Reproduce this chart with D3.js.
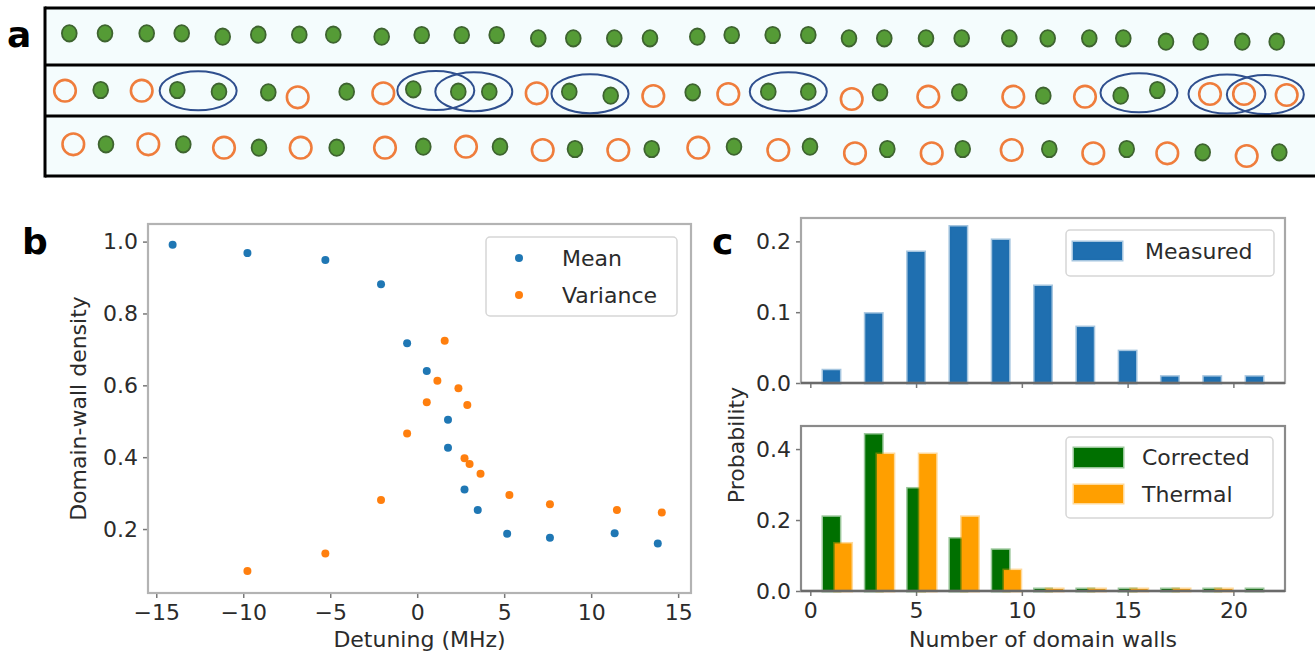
<!DOCTYPE html>
<html>
<head>
<meta charset="utf-8">
<script src="https://cdn.jsdelivr.net/npm/d3@7"></script>
<style>
  html, body { margin: 0; padding: 0; background: #fff; }
  svg { display: block; font-family: "DejaVu Sans", sans-serif; }
</style>
</head>
<body>
<svg id="fig" width="1315" height="656"></svg>
<script>
// ---- panel a: atom chain snapshots (positions in image units, x from box left, y from top)
const row1X = [24.3, 60, 101.7, 136.7, 177.7, 213.3, 254.3, 288.3, 336.7, 376.7, 416.7, 451.7, 493.3, 528.3, 569.3, 605,
  652.3, 686.7, 727.7, 763.3, 804, 839.3, 881, 916.7, 964.3, 1002.7, 1044.3, 1078.3, 1121, 1155.7, 1197.3, 1231.7];
const row1Y = [33.3, 33.3, 33.3, 33.3, 36.7, 34.7, 34.7, 34.7, 36.7, 35, 35, 35, 38.3, 38.3, 38.3, 38.3,
  36.7, 35, 35, 35, 38.3, 38.3, 38.3, 38.3, 38.3, 38.3, 38.3, 38.3, 41.7, 41.7, 41.7, 41.7];
const row1State = "GGGGGGGGGGGGGGGGGGGGGGGGGGGGGGGG";

const row2X = [20, 55.7, 96.7, 132.3, 174, 223.3, 252.7, 301.7, 338.3, 368.3, 413.3, 444.3, 491.7, 524.3, 565.7, 608.3,
  647.7, 683.3, 723.3, 763.3, 806.7, 835, 883.3, 914.3, 968.3, 998.3, 1040, 1075.7, 1112.3, 1165, 1199, 1241.7];
const row2Y = [90.7, 90, 90.7, 90, 91.7, 92.3, 97.3, 91.7, 93.3, 89.3, 91.7, 91.7, 93.3, 91.7, 95.7, 96,
  92.3, 94, 91.7, 91.7, 99, 92.3, 96.7, 92.3, 96.7, 95.7, 96.7, 95.7, 90, 94, 94, 95];
const row2State = "OGOGGGOGOGGGOGGOGOGGOGOGOGOGGOOO";
const wallPairs = [[3, 4], [9, 10], [10, 11], [13, 14], [18, 19], [27, 28], [29, 30], [30, 31]];

const row3X = [28.3, 61, 103.3, 138.3, 179, 214, 255.7, 291.7, 340, 378.3, 421, 455, 497.7, 530, 573.3, 606.7,
  653.3, 689, 733.3, 765, 810, 842.3, 886.7, 917.7, 966.7, 1004.3, 1048.3, 1081.7, 1122.3, 1157.7, 1201.7, 1234.3];
const row3Y = [144.3, 144.3, 144.3, 144.3, 147.7, 147.7, 147.7, 147.7, 147.7, 146.7, 146.7, 146.7, 150, 149, 150, 149,
  147.7, 146.7, 150, 146.7, 153.3, 149, 153.3, 149, 150, 149, 153.3, 149, 153.3, 152.3, 156, 152.3];
const row3State = "OGOGOGOGOGOGOGOGOGOGOGOGOGOGOGOG";

// ---- panel b: domain-wall density vs detuning
const meanDetuning = [-14.06, -9.76, -5.28, -2.08, -0.58, 0.55, 1.77, 1.77, 2.72, 3.48, 5.17, 7.63, 11.35, 13.83];
const meanDensity = [0.991, 0.968, 0.949, 0.881, 0.717, 0.640, 0.504, 0.426, 0.310, 0.253, 0.187, 0.176, 0.188, 0.160];
const varDetuning = [-9.76, -5.28, -2.08, -0.58, 0.55, 1.16, 1.58, 2.37, 2.88, 2.72, 3.01, 3.64, 5.30, 7.63, 11.48, 14.06];
const varDensity = [0.083, 0.132, 0.281, 0.466, 0.553, 0.613, 0.724, 0.592, 0.545, 0.397, 0.381, 0.354, 0.295, 0.269, 0.253, 0.246];
const detuningTicks = [-15, -10, -5, 0, 5, 10, 15];
const densityTicks = [0.2, 0.4, 0.6, 0.8, 1.0];

// ---- panel c: domain-wall number histograms
const wallCounts = [1, 3, 5, 7, 9, 11, 13, 15, 17, 19, 21];
const measured = [0.018, 0.098, 0.185, 0.221, 0.202, 0.137, 0.079, 0.045, 0.009, 0.009, 0.009];
const corrected = [0.209, 0.441, 0.289, 0.148, 0.116, 0, 0, 0, 0, 0, 0];
const thermal = [0.134, 0.386, 0.386, 0.209, 0.059, 0, 0, 0, 0, 0];
const countTicks = [0, 5, 10, 15, 20];
const measuredTicks = [0.0, 0.1, 0.2];
const probTicks = [0.0, 0.2, 0.4];

const TXT = "#2b2b2b";
const FS = 22;
const svg = d3.select("#fig");

// ================= panel a =================
const xA = d3.scaleLinear().domain([0, 1270]).range([45, 1315]);
const yA = d3.scaleLinear().domain([0, 656]).range([0, 656]);
const gA = svg.append("g");

[[8, 65], [65, 116], [116, 176]].forEach(([y0, y1]) => {
  gA.append("rect").attr("x", 45).attr("y", y0).attr("width", 1280).attr("height", y1 - y0).attr("fill", "#f4fcfd");
});

const rows = [[row1X, row1Y, row1State], [row2X, row2Y, row2State], [row3X, row3Y, row3State]];
rows.forEach(([xs, ys, st]) => {
  const atoms = xs.map((x, i) => ({ x, y: ys[i], s: st[i] }));
  gA.selectAll(null).data(atoms.filter(d => d.s === "O")).enter().append("circle")
    .attr("cx", d => xA(d.x)).attr("cy", d => yA(d.y)).attr("r", 10.8)
    .attr("fill", "none").attr("stroke", "#ef7d3c").attr("stroke-width", 2.6);
  gA.selectAll(null).data(atoms.filter(d => d.s === "G")).enter().append("ellipse")
    .attr("cx", d => xA(d.x)).attr("cy", d => yA(d.y)).attr("rx", 7.4).attr("ry", 8.2)
    .attr("fill", "#559b36").attr("stroke", "#3e6430").attr("stroke-width", 1.8);
});

gA.selectAll(null).data(wallPairs).enter().append("ellipse")
  .attr("cx", d => xA((row2X[d[0]] + row2X[d[1]]) / 2))
  .attr("cy", d => yA((row2Y[d[0]] + row2Y[d[1]]) / 2))
  .attr("rx", 38.5).attr("ry", 19.5)
  .attr("fill", "none").attr("stroke", "#2f4f8e").attr("stroke-width", 2);

// box borders
gA.append("line").attr("x1", 45).attr("x2", 1315).attr("y1", 8).attr("y2", 8).attr("stroke", "#000").attr("stroke-width", 3);
gA.append("line").attr("x1", 45).attr("x2", 1315).attr("y1", 65).attr("y2", 65).attr("stroke", "#000").attr("stroke-width", 3);
gA.append("line").attr("x1", 45).attr("x2", 1315).attr("y1", 116).attr("y2", 116).attr("stroke", "#000").attr("stroke-width", 3);
gA.append("line").attr("x1", 45).attr("x2", 1315).attr("y1", 176).attr("y2", 176).attr("stroke", "#000").attr("stroke-width", 3);
gA.append("line").attr("x1", 45).attr("x2", 45).attr("y1", 6.5).attr("y2", 177.5).attr("stroke", "#000").attr("stroke-width", 3);

// panel letters
const letter = (t, x, y) => svg.append("text").attr("x", x).attr("y", y).text(t)
  .attr("font-size", 36).attr("font-weight", "bold").attr("fill", "#000");
letter("a", 7, 47);
letter("b", 22, 254);
letter("c", 712, 254);

// ================= helpers =================
function styleAxis(g) {
  g.select(".domain").remove();
  g.selectAll(".tick line").attr("stroke", "#777").attr("stroke-width", 1.5);
  g.selectAll(".tick text").attr("fill", TXT).attr("font-size", FS).attr("font-family", "DejaVu Sans");
}
function frame(x0, x1, y0, y1, col, bottomCol) {
  svg.append("rect").attr("x", x0).attr("y", y0).attr("width", x1 - x0).attr("height", y1 - y0)
    .attr("fill", "none").attr("stroke", col).attr("stroke-width", 2.2);
  if (bottomCol) svg.append("line").attr("x1", x0).attr("x2", x1).attr("y1", y1).attr("y2", y1)
    .attr("stroke", bottomCol).attr("stroke-width", 2.4);
}
function legendBox(x, y, w, h) {
  svg.append("rect").attr("x", x).attr("y", y).attr("width", w).attr("height", h).attr("rx", 4)
    .attr("fill", "#fff").attr("fill-opacity", 0.9).attr("stroke", "#d6d6d6").attr("stroke-width", 1.5);
}
function legendText(t, x, y) {
  svg.append("text").attr("x", x).attr("y", y).attr("dy", "0.35em").text(t)
    .attr("font-size", FS).attr("fill", TXT);
}

// ================= panel b =================
const bL = 148, bR = 691, bT = 224, bB = 593;
const xB = d3.scaleLinear().domain([-15.475, 15.739]).range([bL, bR]);
const yB = d3.scaleLinear().domain([0.022, 1.049]).range([bB, bT]);

svg.append("g").attr("transform", `translate(0,${bB})`)
  .call(d3.axisBottom(xB).tickValues(detuningTicks).tickSize(5).tickPadding(6).tickFormat(d3.format("d")))
  .call(styleAxis);
svg.append("g").attr("transform", `translate(${bL},0)`)
  .call(d3.axisLeft(yB).tickValues(densityTicks).tickSize(5).tickPadding(5).tickFormat(d3.format(".1f")))
  .call(styleAxis);

svg.append("g").selectAll("circle").data(meanDetuning).enter().append("circle")
  .attr("cx", d => xB(d)).attr("cy", (d, i) => yB(meanDensity[i])).attr("r", 4).attr("fill", "#1f77b4");
svg.append("g").selectAll("circle").data(varDetuning).enter().append("circle")
  .attr("cx", d => xB(d)).attr("cy", (d, i) => yB(varDensity[i])).attr("r", 4).attr("fill", "#ff7f0e");

frame(bL, bR, bT, bB, "#b3b3b3");

legendBox(486, 237, 191, 79);
svg.append("circle").attr("cx", 519).attr("cy", 258).attr("r", 4).attr("fill", "#1f77b4");
svg.append("circle").attr("cx", 519).attr("cy", 295).attr("r", 4).attr("fill", "#ff7f0e");
legendText("Mean", 562, 258);
legendText("Variance", 562, 295);

svg.append("text").attr("x", (bL + bR) / 2).attr("y", 647).attr("text-anchor", "middle")
  .text("Detuning (MHz)").attr("font-size", FS).attr("fill", TXT);
svg.append("text").attr("transform", `translate(86,${(bT + bB) / 2}) rotate(-90)`).attr("text-anchor", "middle")
  .text("Domain-wall density").attr("font-size", FS).attr("fill", TXT);

// ================= panel c =================
const cL = 801, cR = 1285;
const xC = d3.scaleLinear().domain([-0.44, 22.44]).range([cL, cR]);
const barW = xC(0.8) - xC(0);
const t1T = 218, t1B = 383;
const t2T = 426, t2B = 591;
const yC1 = d3.scaleLinear().domain([0, 0.233]).range([t1B, t1T]);
const yC2 = d3.scaleLinear().domain([0, 0.465]).range([t2B, t2T]);

function bars(xs, vals, shift, y, color) {
  svg.append("g").selectAll("rect").data(vals).enter().append("rect")
    .attr("x", (d, i) => xC(xs[i] + shift) - barW / 2)
    .attr("y", d => Math.min(y(d), y(0) - 2))
    .attr("width", barW)
    .attr("height", d => Math.max(y(0) - y(d), 2))
    .attr("fill", color).attr("stroke", color).attr("stroke-opacity", 0.4).attr("stroke-width", 3);
}

// top: measured
svg.append("g").attr("transform", `translate(0,${t1B})`)
  .call(d3.axisBottom(xC).tickValues(countTicks).tickSize(5).tickFormat(""))
  .call(styleAxis);
svg.append("g").attr("transform", `translate(${cL},0)`)
  .call(d3.axisLeft(yC1).tickValues(measuredTicks).tickSize(5).tickPadding(5).tickFormat(d3.format(".1f")))
  .call(styleAxis);
bars(wallCounts, measured, 0, yC1, "#1f6fb0");
frame(cL, cR, t1T, t1B, "#a8a8a8", "#6a6a6a");

legendBox(1066, 230, 208, 46);
svg.append("rect").attr("x", 1073).attr("y", 242).attr("width", 49).attr("height", 18)
  .attr("fill", "#1f6fb0").attr("stroke", "#1f6fb0").attr("stroke-opacity", 0.4).attr("stroke-width", 3);
legendText("Measured", 1145, 251);

// bottom: corrected vs thermal
svg.append("g").attr("transform", `translate(0,${t2B})`)
  .call(d3.axisBottom(xC).tickValues(countTicks).tickSize(5).tickPadding(6).tickFormat(d3.format("d")))
  .call(styleAxis);
svg.append("g").attr("transform", `translate(${cL},0)`)
  .call(d3.axisLeft(yC2).tickValues(probTicks).tickSize(5).tickPadding(5).tickFormat(d3.format(".1f")))
  .call(styleAxis);
bars(wallCounts, corrected, 0, yC2, "#007000");
bars(wallCounts.slice(0, thermal.length), thermal, 0.55, yC2, "#ff9f00");
frame(cL, cR, t2T, t2B, "#8a8a8a", "#6a6a6a");

legendBox(1066, 437, 207, 81);
svg.append("rect").attr("x", 1074).attr("y", 448).attr("width", 49).attr("height", 19)
  .attr("fill", "#007000").attr("stroke", "#007000").attr("stroke-opacity", 0.4).attr("stroke-width", 3);
svg.append("rect").attr("x", 1074).attr("y", 485).attr("width", 49).attr("height", 18)
  .attr("fill", "#ff9f00").attr("stroke", "#ff9f00").attr("stroke-opacity", 0.4).attr("stroke-width", 3);
legendText("Corrected", 1142, 457.5);
legendText("Thermal", 1142, 494);

svg.append("text").attr("x", (cL + cR) / 2).attr("y", 647).attr("text-anchor", "middle")
  .text("Number of domain walls").attr("font-size", FS).attr("fill", TXT);
svg.append("text").attr("transform", `translate(744,445) rotate(-90)`).attr("text-anchor", "middle")
  .text("Probability").attr("font-size", FS).attr("fill", TXT);
</script>
</body>
</html>
